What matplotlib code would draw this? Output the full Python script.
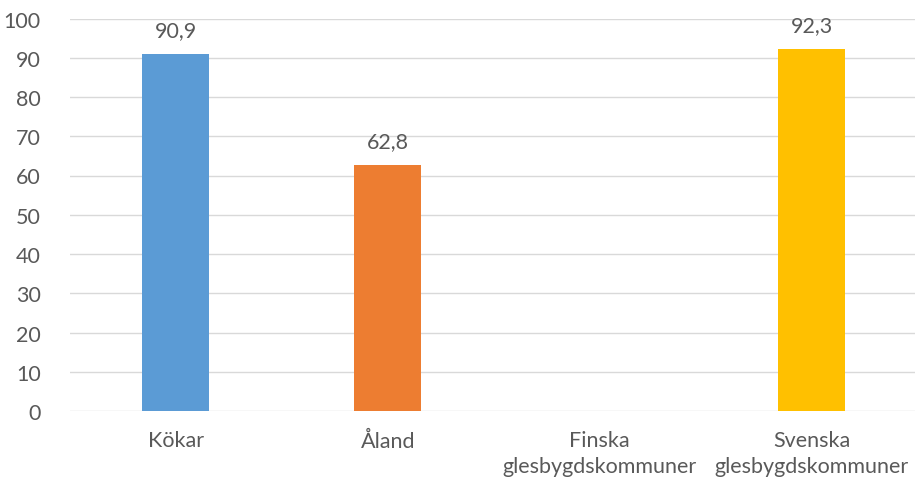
import matplotlib
matplotlib.use("Agg")
import matplotlib.pyplot as plt

categories = ["Kökar", "Åland", "Finska\nglesbygdskommuner", "Svenska\nglesbygdskommuner"]
values = [90.9, 62.8, None, 92.3]
colors = ["#5B9BD5", "#ED7D31", "#A5A5A5", "#FFC000"]
yticks = [0, 10, 20, 30, 40, 50, 60, 70, 80, 90, 100]

plt.rcParams['font.family'] = ['Lato', 'DejaVu Sans']
text_color = "#595959"
fs = 15.5

fig = plt.figure(figsize=(9.15, 4.85), dpi=100)
ax = fig.add_axes([70 / 915, (485 - 412) / 485, 1 - 70 / 915, (412 - 19.5) / 485])

for i, (v, c) in enumerate(zip(values, colors)):
    if v is None:
        continue
    ax.bar(i, v, width=0.316, color=c, zorder=2)
    ax.annotate(f"{v:.1f}".replace(".", ","), (i, v), xytext=(0, 10),
                textcoords="offset points", ha="center", va="bottom",
                fontsize=fs, color=text_color)

ax.set_ylim(0, 100)
ax.set_xlim(-0.5, 3.488)
ax.set_yticks(yticks)
ax.set_xticks(range(len(categories)))
ax.set_xticklabels(categories, linespacing=1.35)
ax.yaxis.grid(True, color="#D9D9D9", linewidth=1, zorder=0)
ax.set_axisbelow(True)
for s in ax.spines.values():
    s.set_visible(False)
ax.tick_params(axis="both", length=0, labelsize=fs, colors=text_color)
ax.tick_params(axis="y", pad=21)
ax.tick_params(axis="x", pad=14)

fig.savefig("out.png", dpi=100)
